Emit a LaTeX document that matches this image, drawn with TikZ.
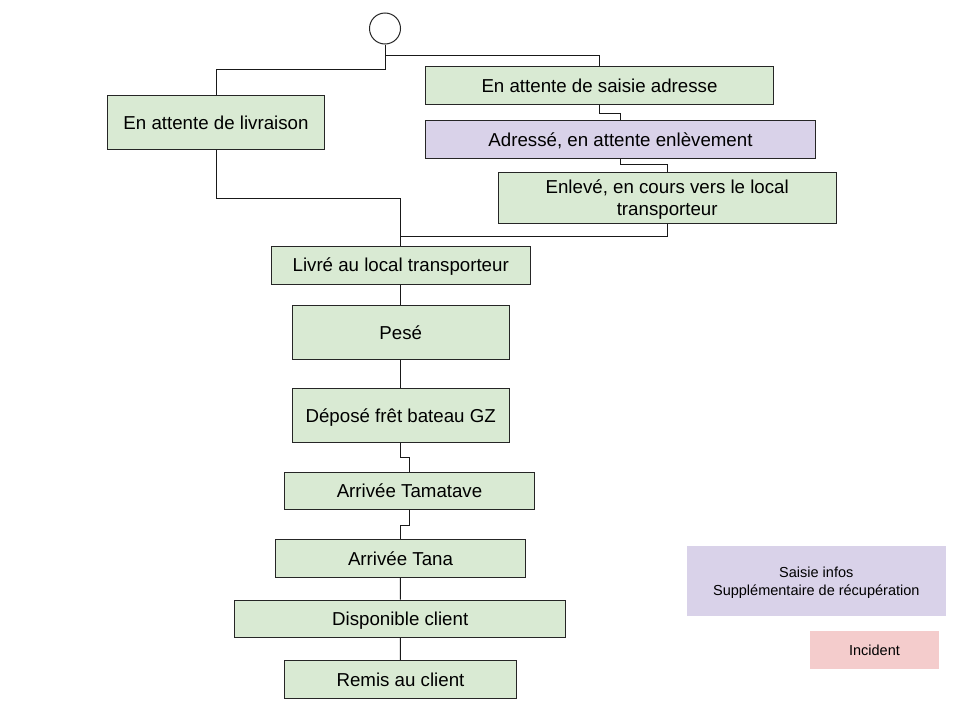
\documentclass[tikz,border=0pt]{standalone}
\usepackage{fontspec}
\setmainfont{Liberation Sans}
\usepackage{tikz}
\definecolor{etatvert}{HTML}{D9EAD3}
\definecolor{etatmauve}{HTML}{D9D2E9}
\definecolor{etatrouge}{HTML}{F4CCCC}
\tikzstyle{etat}=[rectangle,draw=black!85,fill=etatvert,line width=1pt,inner sep=0pt,text depth=0pt,align=center,font=\fontsize{18.7}{22}\selectfont]
\tikzstyle{legende}=[rectangle,inner sep=0pt,text depth=0pt,align=center,font=\fontsize{14.5}{17.7}\selectfont]
\tikzstyle{lien}=[line width=1pt,black!90]

\begin{document}
\begin{tikzpicture}[x=1pt,y=-1pt]
\useasboundingbox (0, 0) rectangle (960, 720);
\node[circle,draw=black!85,line width=1pt,minimum size=31pt,inner sep=0pt] at (385, 28.5) (debut) {};
\node[etat,minimum width=217.5pt,minimum height=53.6pt] at (216, 122.5) (livraison) {En attente de livraison};
\node[etat,minimum width=347.6pt,minimum height=38pt] at (599.5, 85.3) (saisie) {En attente de saisie adresse};
\node[etat,fill=etatmauve,minimum width=389.6pt,minimum height=37.7pt] at (620.5, 139.2) (adresse) {Adressé, en attente enlèvement};
\node[etat,minimum width=337.7pt,minimum height=50.7pt] at (667.2, 197.7) (enleve) {Enlevé, en cours vers le local\\transporteur};
\node[etat,minimum width=258.6pt,minimum height=38pt] at (400.7, 265) (livre) {Livré au local transporteur};
\node[etat,minimum width=217pt,minimum height=53.7pt] at (400.7, 332.2) (pese) {Pesé};
\node[etat,minimum width=217pt,minimum height=53.7pt] at (400.7, 415.2) (depose) {Déposé frêt bateau GZ};
\node[etat,minimum width=250pt,minimum height=37pt] at (409.5, 490.8) (tamatave) {Arrivée Tamatave};
\node[etat,minimum width=250pt,minimum height=37.7pt] at (400.5, 558.2) (tana) {Arrivée Tana};
\node[etat,minimum width=330.6pt,minimum height=37.3pt] at (400.2, 618.7) (dispo) {Disponible client};
\node[etat,minimum width=232pt,minimum height=38pt] at (400.5, 679.3) (remis) {Remis au client};
\node[legende,fill=etatmauve,minimum width=258.7pt,minimum height=70pt] at (816.3, 581.3) (infos) {Saisie infos\\Supplémentaire de récupération};
\node[legende,fill=etatrouge,minimum width=129pt,minimum height=37.4pt] at (874.5, 650) (incident) {Incident};
\draw[lien] (debut.south) -- ++(0, 25) -| (livraison.north);
\draw[lien] (debut.south) -- ++(0, 11) -| (saisie.north);
\draw[lien] (saisie.south) -- ++(0, 8.5) -| (adresse.north);
\draw[lien] (adresse.south) -- ++(0, 6.3) -| (enleve.north);
\draw[lien] (livraison.south) -- ++(0, 48.7) -| (livre.north);
\draw[lien] (enleve.south) -- ++(0, 12.6) -| (livre.north);
\draw[lien] (livre) -- (pese);
\draw[lien] (pese) -- (depose);
\draw[lien] (depose.south) -- ++(0, 15.3) -| (tamatave.north);
\draw[lien] (tamatave.south) -- ++(0, 15.7) -| (tana.north);
\draw[lien] (tana) -- (dispo);
\draw[lien] (dispo) -- (remis);
\end{tikzpicture}
\end{document}
